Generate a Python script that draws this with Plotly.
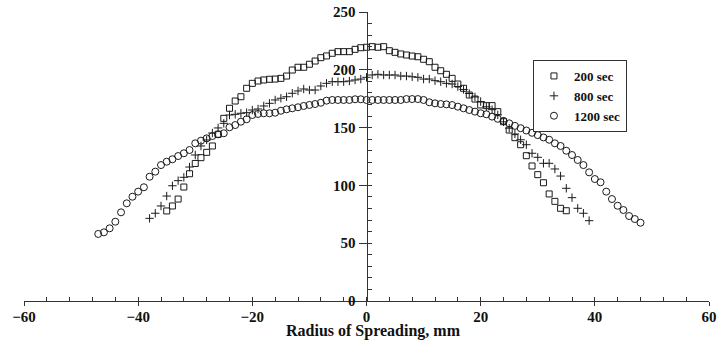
import plotly.graph_objects as go

# ---- data ----
x_200 = [-35, -34, -33, -32, -31, -30, -29, -28, -27, -26, -25, -24, -23, -22, -21, -20, -19, -18,
         -17, -16, -15, -14, -13, -12, -11, -10, -9, -8, -7, -6, -5, -4, -3, -2, -1, 0,
         1, 2, 3, 4, 5, 6, 7, 8, 9, 10, 11, 12, 13, 14, 15, 16, 17, 18, 19, 20, 21, 22,
         23, 24, 25, 26, 27, 28, 29, 30, 31, 32, 33, 34, 35]
y_200 = [77.9, 82.2, 88.2, 98.6, 110.1, 119.0, 124.0, 128.6, 134.1, 144.2, 158.0, 166.7, 173.0, 176.7,
         184.0, 188.3, 190.3, 191.2, 191.8, 192.0, 192.6, 194.6, 199.8, 202.2, 202.2, 204.8, 207.6,
         210.5, 212.0, 214.3, 215.7, 215.7, 215.7, 217.7, 219.1, 219.5,
         220.0, 219.5, 220.0, 216.5, 215.1, 213.7, 212.8, 211.9, 211.3, 209.1, 207.0, 202.2, 199.2,
         196.1, 192.6, 187.7, 184.0, 178.2, 174.7, 169.6, 169.0, 169.0, 163.8, 155.1, 147.9, 141.3,
         135.2, 125.7, 116.8, 109.3, 102.3, 92.6, 86.2, 80.2, 78.1]

x_800 = [-38, -37, -36, -35, -34, -33, -32, -31, -30, -29, -28, -27, -26, -25, -24, -23, -22, -21,
         -20, -19, -18, -17, -16, -15, -14, -13, -12, -11, -10, -9, -8, -7, -6, -5, -4, -3, -2, -1, 0,
         1, 2, 3, 4, 5, 6, 7, 8, 9, 10, 11, 12, 13, 14, 15, 16, 17, 18, 19, 20, 21, 22, 23, 24,
         25, 26, 27, 28, 29, 30, 31, 32, 33, 34, 35, 36, 37, 38, 39]
y_800 = [71.5, 75.9, 82.2, 90.8, 99.7, 104.1, 107.0, 115.9, 126.3, 134.1, 139.3, 145.3, 149.7, 153.7,
         160.9, 161.5, 162.4, 162.9, 165.2, 166.1, 168.7, 171.0, 173.9, 175.4, 176.7, 179.7, 181.7,
         183.4, 182.5, 182.5, 186.0, 188.3, 189.7, 189.7, 189.7, 190.3, 191.2, 192.0, 193.5,
         195.5, 196.1, 195.5, 195.5, 195.5, 194.6, 194.6, 194.0, 193.5, 192.0, 192.0, 190.6, 189.7,
         188.3, 187.7, 185.5, 183.0, 179.5, 176.5, 172.5, 168.0, 165.5, 161.0, 155.0, 149.5, 144.5,
         139.5, 135.2, 127.8, 124.3, 119.1, 119.1, 114.2, 108.1, 97.5, 89.4, 80.2, 75.9, 69.5]

x_1200 = [-47, -46, -45, -44, -43, -42, -41, -40, -39, -38, -37, -36, -35, -34, -33, -32, -31, -30,
          -29, -28, -27, -26, -25, -24, -23, -22, -21, -20, -19, -18, -17, -16, -15, -14, -13, -12,
          -11, -10, -9, -8, -7, -6, -5, -4, -3, -2, -1, 0, 1, 2, 3, 4, 5, 6, 7, 8, 9, 10, 11, 12,
          13, 14, 15, 16, 17, 18, 19, 20, 21, 22, 23, 24, 25, 26, 27, 28, 29, 30, 31, 32, 33, 34,
          35, 36, 37, 38, 39, 40, 41, 42, 43, 44, 45, 46, 47, 48]
y_1200 = [58.0, 59.4, 62.9, 68.6, 76.7, 84.5, 90.2, 94.6, 98.4, 107.5, 111.9, 117.6, 120.5, 122.6,
          125.4, 127.8, 130.6, 136.4, 138.7, 140.7, 142.7, 144.2, 145.1, 150.3, 152.2, 155.1, 157.2,
          160.9, 161.8, 162.4, 162.4, 162.9, 164.6, 165.8, 166.7, 167.6, 168.7, 169.6, 170.4, 171.5,
          173.3, 173.9, 173.9, 173.9, 173.9, 174.5, 174.5, 173.9, 173.9, 173.9, 173.9, 173.9, 173.9,
          173.9, 174.7, 174.7, 174.7, 173.9, 171.9, 171.0, 170.4, 170.1, 169.5, 168.1, 166.7, 165.2,
          163.8, 162.4, 161.5, 159.5, 157.6, 155.8, 153.7, 151.5, 149.5, 147.5, 145.5, 143.5, 141.5,
          139.5, 136.4, 134.1, 130.0, 126.3, 122.0, 117.6, 111.3, 105.5, 102.7, 94.6, 88.2, 82.4,
          78.7, 73.5, 70.9, 67.7]

series_names = ["200 sec", "800 sec", "1200 sec"]
x_ticks = [-60, -40, -20, 0, 20, 40, 60]
y_ticks = [0, 50, 100, 150, 200, 250]
x_title = "Radius of Spreading, mm"

FONT = "Liberation Serif, Times New Roman, serif"
INK = "#1a1a1a"

fig = go.Figure()
fig.add_trace(go.Scatter(x=x_200, y=y_200, mode="markers", name=series_names[0],
                         marker=dict(symbol="square-open", size=6, color=INK, line=dict(width=1, color=INK))))
fig.add_trace(go.Scatter(x=x_800, y=y_800, mode="markers", name=series_names[1],
                         marker=dict(symbol="cross-thin-open", size=6, color=INK, line=dict(width=1, color=INK))))
fig.add_trace(go.Scatter(x=x_1200, y=y_1200, mode="markers", name=series_names[2],
                         marker=dict(symbol="circle-open", size=7, color=INK, line=dict(width=1, color=INK))))

tickfont = dict(family=FONT, size=15, color="#111", weight="bold")

fig.update_layout(
    width=717, height=341,
    margin=dict(l=24, r=8, t=12, b=40, autoexpand=False),
    paper_bgcolor="white", plot_bgcolor="white",
    showlegend=True,
    legend=dict(x=0.743, y=0.834, xanchor="left", yanchor="top",
                bordercolor="#333", borderwidth=1, bgcolor="white",
                font=dict(family=FONT, size=13, color="#111", weight="bold"),
                itemwidth=30, tracegroupgap=0, itemsizing="trace"),
    xaxis=dict(range=[-60, 60], tickvals=x_ticks, ticks="outside", ticklen=4, tickcolor="#333",
               showline=True, linecolor="#333", linewidth=1, showgrid=False, zeroline=False,
               tickfont=tickfont, anchor="y", automargin=False, ticklabelstandoff=-2,
               ticklabeloverflow="allow"),
    yaxis=dict(range=[0, 250], tickvals=y_ticks, ticks="outside", ticklen=8, tickcolor="#333",
               showline=True, linecolor="#333", linewidth=1, showgrid=False, zeroline=False,
               tickfont=tickfont, anchor="free", position=0.5, automargin=False,
               ticklabeloverflow="allow"),
    xaxis2=dict(range=[-60, 60], overlaying="x", anchor="y", side="bottom", dtick=4, tick0=0,
                ticks="inside", ticklen=4, tickcolor="#333", showticklabels=False,
                showline=False, showgrid=False, zeroline=False),
    yaxis2=dict(range=[0, 250], overlaying="y", anchor="free", position=0.5, side="left",
                dtick=10, tick0=0, ticks="inside", ticklen=4, tickcolor="#333",
                showticklabels=False, showline=False, showgrid=False, zeroline=False),
    annotations=[dict(text=x_title, xref="paper", yref="paper", x=0.51, y=-0.105,
                      xanchor="center", yanchor="middle", showarrow=False,
                      font=dict(family=FONT, size=16, color="#111", weight="bold"))],
)

# invisible helper trace so the overlay tick axes are drawn
fig.add_trace(go.Scatter(x=[None], y=[None], xaxis="x2", yaxis="y2", showlegend=False, hoverinfo="skip"))

# remove the browser's default 8px page margin so the figure fills the window exactly
fig.write_html("out.html", config={"displayModeBar": False},
               post_script="document.body.style.margin='0';")
